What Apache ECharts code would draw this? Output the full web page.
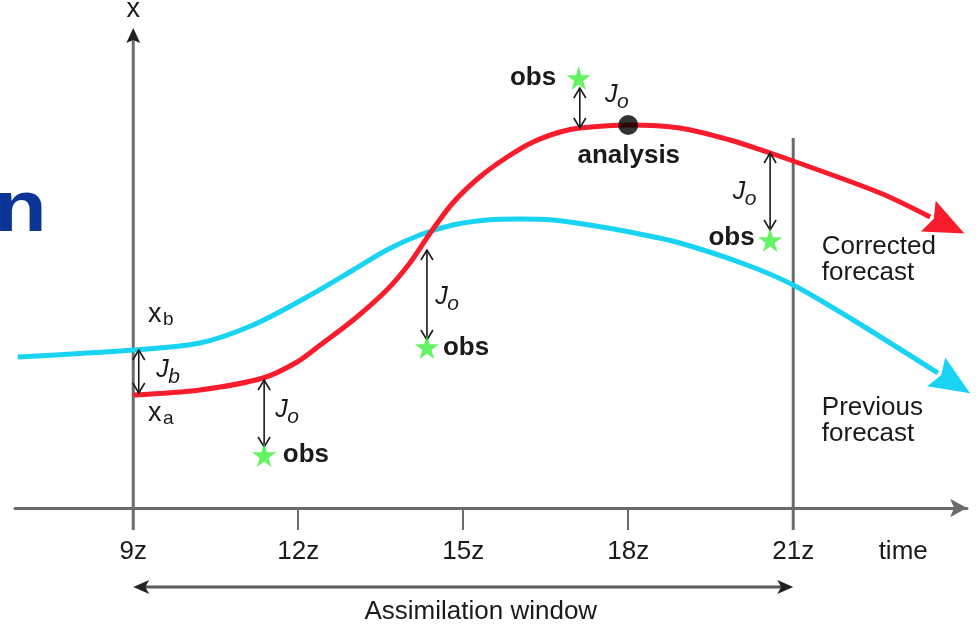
<!DOCTYPE html>
<html>
<head>
<meta charset="utf-8">
<script src="https://cdn.jsdelivr.net/npm/echarts@6/dist/echarts.min.js"></script>
<style>
  html, body { margin: 0; padding: 0; background: #fff; }
  #chart { width: 978px; height: 627px; }
</style>
</head>
<body>
<div id="chart"></div>
<script>
// time axis, hours (z)
var tickHours = [9, 12, 15, 18, 21];
var tickLabels = ['9z', '12z', '15z', '18z', '21z'];
var timeLabelAt = 23;
var windowStart = 9, windowEnd = 21;

// previous forecast (background run)
var prevT = [6.9, 9.0, 10.21, 11.18, 12.16, 13.0, 13.61, 14.21, 14.81, 15.43, 16.03, 16.63, 17.12, 18.03, 18.94, 20.16, 21.0, 22.09, 23.63];
var prevX = [15.1, 15.8, 16.5, 18.3, 21.1, 23.8, 25.8, 27.3, 28.3, 28.8, 28.9, 28.8, 28.45, 27.6, 26.5, 24.3, 22.3, 18.8, 13.5];

// corrected forecast (analysis run)
var corrT = [9.0, 10.21, 11.36, 11.98, 12.4, 13.0, 13.61, 14.03, 14.4, 14.81, 15.3, 15.8, 16.27, 16.76, 17.12, 18.03, 18.94, 19.85, 20.58, 21.0, 22.58, 23.49];
var corrX = [11.3, 11.8, 13.0, 14.6, 16.3, 18.8, 21.8, 24.5, 27.5, 30.5, 33.1, 35.1, 36.6, 37.6, 38.0, 38.3, 38.0, 36.8, 35.5, 34.7, 31.5, 29.1];

// observations
var obsT = [11.38, 14.34, 17.1, 20.58];
var obsX = [5.3, 16.1, 43.0, 26.8];

var analysisT = 18.0, analysisX = 38.3;

// cost terms: time, upper end, lower end
var costT = [9.1, 11.38, 14.34, 17.12, 20.58];
var costTop = [15.8, 12.8, 25.8, 42.0, 35.5];
var costBottom = [11.5, 6.1, 16.8, 38.0, 27.8];

var RED = '#f81c2c', CYAN = '#18d4f2', GREEN = '#3cf03c', INK = '#1a1a1a', GREY = '#6b6b6b';
var FONT = '"Liberation Sans", Arial, sans-serif';

// text annotations: t, x, text, subscript, kind, align
var notes = [
  [9.27, 19.3, 'x', 'b', 'sym', 'left'],
  [9.27, 9.4, 'x', 'a', 'sym', 'left'],
  [9.42, 13.8, 'J', 'b', 'cost', 'left'],
  [11.58, 9.8, 'J', 'o', 'cost', 'left'],
  [14.49, 21.1, 'J', 'o', 'cost', 'left'],
  [17.58, 41.3, 'J', 'o', 'cost', 'left'],
  [19.9, 31.6, 'J', 'o', 'cost', 'left'],
  [11.72, 5.3, 'obs', '', 'bold', 'left'],
  [14.63, 16.0, 'obs', '', 'bold', 'left'],
  [16.69, 43.0, 'obs', '', 'bold', 'right'],
  [20.3, 27.0, 'obs', '', 'bold', 'right'],
  [18.01, 35.2, 'analysis', '', 'bold', 'center'],
  [21.52, 24.8, 'Corrected\nforecast', '', 'note', 'left'],
  [21.52, 8.7, 'Previous\nforecast', '', 'note', 'left'],
  [9.0, 49.8, 'x', '', 'sym', 'center'],
  [15.32, -10.4, 'Assimilation window', '', 'note', 'center']
];

var kinds = {
  sym: { main: '27px ' + FONT, sub: '19px ' + FONT, dx: 15, dy: 5 },
  cost: { main: 'italic 25px ' + FONT, sub: 'italic 21px ' + FONT, dx: 12, dy: 7 },
  bold: { main: 'bold 26px ' + FONT },
  note: { main: '26px ' + FONT }
};

function pairs(a, b) {
  return a.map(function (v, i) { return [v, b[i]]; });
}

function chevron(x, y, dir) {
  return {
    type: 'polyline',
    shape: { points: [[x - 6, y + dir * 10], [x, y], [x + 6, y + dir * 10]] },
    style: { stroke: INK, lineWidth: 1.6, fill: null }
  };
}

function renderCost(params, api) {
  var i = params.dataIndex;
  var a = api.coord([costT[i], costTop[i]]);
  var b = api.coord([costT[i], costBottom[i]]);
  return {
    type: 'group',
    children: [
      { type: 'line', shape: { x1: a[0], y1: a[1], x2: b[0], y2: b[1] }, style: { stroke: INK, lineWidth: 1.6 } },
      chevron(a[0], a[1], 1),
      chevron(b[0], b[1], -1)
    ]
  };
}

function renderHead(params, api) {
  var t = params.dataIndex === 0 ? prevT : corrT;
  var x = params.dataIndex === 0 ? prevX : corrX;
  var n = t.length;
  var p1 = api.coord([t[n - 2], x[n - 2]]);
  var p2 = api.coord([t[n - 1], x[n - 1]]);
  var dx = p2[0] - p1[0], dy = p2[1] - p1[1];
  var len = Math.sqrt(dx * dx + dy * dy);
  var ux = dx / len, uy = dy / len;
  var L = 38, W = 17;
  var tip = [p2[0] + ux * L, p2[1] + uy * L];
  var notch = [p2[0] + ux * 4, p2[1] + uy * 4];
  return {
    type: 'polygon',
    shape: { points: [tip, [p2[0] - uy * W - ux * 2, p2[1] + ux * W - uy * 2], notch, [p2[0] + uy * W - ux * 2, p2[1] - ux * W - uy * 2]] },
    style: { fill: params.dataIndex === 0 ? CYAN : RED }
  };
}

function renderGuides(params, api) {
  var yTop = api.coord([windowStart, 48.0]);
  var yBase = api.coord([windowStart, -2.2]);
  var rTop = api.coord([windowEnd, 37.0]);
  var rBase = api.coord([windowEnd, -2.2]);
  var wl = api.coord([windowStart, -7.9]);
  var wr = api.coord([windowEnd, -7.9]);
  return {
    type: 'group',
    children: [
      { type: 'line', shape: { x1: yBase[0], y1: yBase[1], x2: yTop[0], y2: yTop[1] + 12 }, style: { stroke: GREY, lineWidth: 3 } },
      { type: 'polygon', shape: { points: [[yTop[0], yTop[1]], [yTop[0] - 7, yTop[1] + 15], [yTop[0], yTop[1] + 12], [yTop[0] + 7, yTop[1] + 15]] }, style: { fill: '#222' } },
      { type: 'line', shape: { x1: rBase[0], y1: rBase[1], x2: rTop[0], y2: rTop[1] }, style: { stroke: GREY, lineWidth: 3 } },
      { type: 'line', shape: { x1: wl[0] + 10, y1: wl[1], x2: wr[0] - 10, y2: wr[1] }, style: { stroke: '#5a5a5a', lineWidth: 3 } },
      { type: 'polygon', shape: { points: [[wl[0], wl[1]], [wl[0] + 16, wl[1] - 7], [wl[0] + 12, wl[1]], [wl[0] + 16, wl[1] + 7]] }, style: { fill: '#222' } },
      { type: 'polygon', shape: { points: [[wr[0], wr[1]], [wr[0] - 16, wr[1] - 7], [wr[0] - 12, wr[1]], [wr[0] - 16, wr[1] + 7]] }, style: { fill: '#222' } }
    ]
  };
}

function renderNote(params, api) {
  var n = notes[params.dataIndex];
  var k = kinds[n[4]];
  var p = api.coord([n[0], n[1]]);
  var children = [{
    type: 'text', x: p[0], y: p[1],
    style: { text: n[2], font: k.main, fill: INK, align: n[5], verticalAlign: 'middle', lineHeight: 26 }
  }];
  if (n[3]) {
    children.push({
      type: 'text', x: p[0] + k.dx, y: p[1] + k.dy,
      style: { text: n[3], font: k.sub, fill: INK, align: 'left', verticalAlign: 'middle' }
    });
  }
  return { type: 'group', children: children };
}

var STAR = 'path://M50,0 L61,35 L98,35 L68,57 L79,91 L50,70 L21,91 L32,57 L2,35 L39,35 Z';

var chart = echarts.init(document.getElementById('chart'));
chart.setOption({
  animation: false,
  backgroundColor: '#fff',
  grid: { left: 15, right: 11, top: 20, bottom: 119 },
  xAxis: {
    type: 'value', min: 6.85, max: 24.16,
    splitLine: { show: false },
    axisLine: { show: true, lineStyle: { color: GREY, width: 3 }, symbol: ['none', 'arrow'], symbolSize: [14, 17] },
    axisTick: { show: true, customValues: tickHours, length: 22, lineStyle: { color: GREY, width: 2 } },
    axisLabel: {
      customValues: tickHours.concat([timeLabelAt]),
      formatter: function (v) {
        var i = tickHours.indexOf(v);
        return i >= 0 ? tickLabels[i] : 'time';
      },
      margin: 31, fontSize: 26, color: INK, fontFamily: FONT
    }
  },
  yAxis: { type: 'value', min: 0, max: 48.8, show: false },
  graphic: [{
    type: 'text', x: -6, y: 175, scaleX: 1.2,
    style: { text: 'n', font: 'bold 72px ' + FONT, fill: '#0a3597', verticalAlign: 'top' }
  }],
  series: [
    { type: 'custom', name: 'guides', renderItem: renderGuides, data: [[windowStart, 0]], clip: false, silent: true, z: 1 },
    {
      type: 'line', name: 'Previous forecast', data: pairs(prevT, prevX), smooth: 0.3,
      showSymbol: false, clip: false, lineStyle: { color: CYAN, width: 5 }, z: 2
    },
    {
      type: 'line', name: 'Corrected forecast', data: pairs(corrT, corrX), smooth: 0.3,
      showSymbol: false, clip: false, lineStyle: { color: RED, width: 5 }, z: 3
    },
    { type: 'custom', name: 'heads', renderItem: renderHead, data: [[prevT[0], prevX[0]], [corrT[0], corrX[0]]], clip: false, z: 3 },
    { type: 'custom', name: 'cost', renderItem: renderCost, data: pairs(costT, costTop), clip: false, z: 4 },
    {
      type: 'scatter', name: 'analysis', data: [[analysisT, analysisX]], symbolSize: 20,
      itemStyle: { color: '#000' }, z: 5
    },
    {
      type: 'scatter', name: 'obs', data: pairs(obsT, obsX), symbol: STAR, symbolSize: 24,
      itemStyle: { color: GREEN }, clip: false, z: 5
    },
    { type: 'custom', name: 'notes', renderItem: renderNote, data: notes.map(function (n) { return [n[0], n[1]]; }), clip: false, z: 6 }
  ]
});
</script>
</body>
</html>
